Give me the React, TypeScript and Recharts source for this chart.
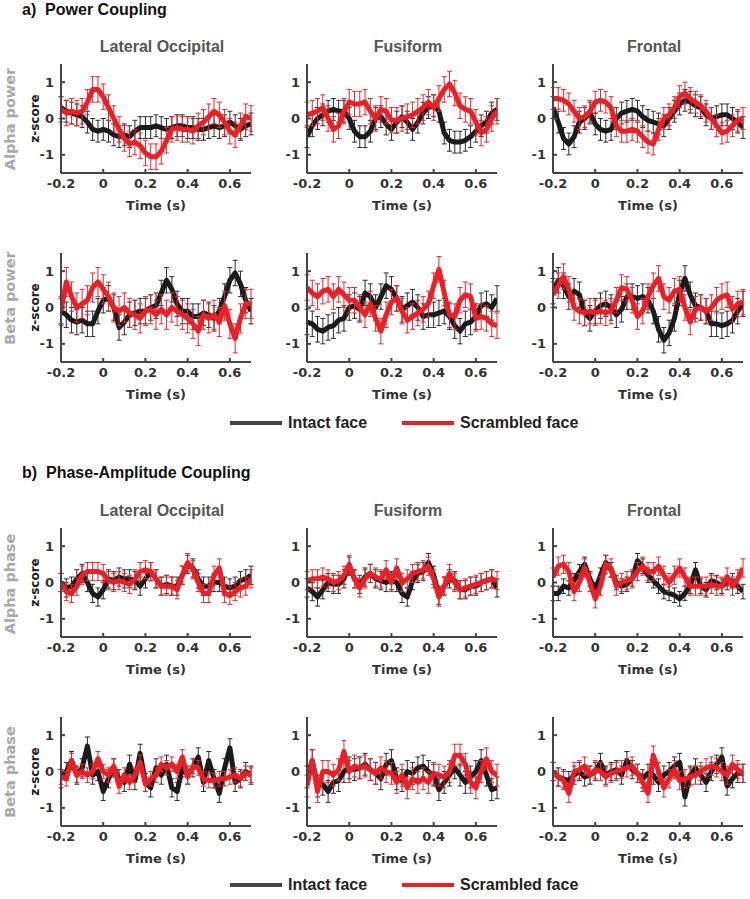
import React from "react";
import { LineChart, Line, XAxis, YAxis, ErrorBar } from "recharts";

// time axis (s)
const times = [
  -0.2, -0.175, -0.15, -0.125, -0.1, -0.075, -0.05, -0.025, 0, 0.025, 0.05, 0.075, 0.1,
  0.125, 0.15, 0.175, 0.2, 0.225, 0.25, 0.275, 0.3, 0.325, 0.35, 0.375, 0.4, 0.425, 0.45,
  0.475, 0.5, 0.525, 0.55, 0.575, 0.6, 0.625, 0.65, 0.675, 0.7,
];
const xTicks = [-0.2, 0, 0.2, 0.4, 0.6];
const yTicks = [-1, 0, 1];

const regions = ["Lateral Occipital", "Fusiform", "Frontal"];
const rowLabels = ["Alpha power", "Beta power", "Alpha phase", "Beta phase"];
const sectionTitles = ["a)  Power Coupling", "b)  Phase-Amplitude Coupling"];
const seriesNames = ["Intact face", "Scrambled face"];

// a) power coupling - alpha
const alphaPowLoIntact = [0.3, 0.2, 0.15, 0.1, 0.05, -0.1, -0.3, -0.35, -0.3, -0.35, -0.45, -0.5, -0.45, -0.5, -0.35, -0.25, -0.25, -0.25, -0.2, -0.25, -0.3, -0.25, -0.2, -0.2, -0.25, -0.25, -0.3, -0.3, -0.25, -0.2, -0.25, -0.2, -0.1, -0.2, -0.3, -0.2, -0.15];
const alphaPowLoScr = [0.25, 0.15, 0.2, 0.15, 0.2, 0.45, 0.8, 0.8, 0.6, 0.3, 0.0, -0.3, -0.55, -0.7, -0.65, -0.75, -0.95, -1.05, -1.05, -0.9, -0.6, -0.3, -0.25, -0.3, -0.3, -0.35, -0.2, -0.1, 0.05, 0.2, 0.1, -0.1, -0.35, -0.45, -0.2, 0.05, 0.0];
const alphaPowFusIntact = [-0.5, -0.2, 0.0, 0.1, 0.2, 0.25, 0.2, 0.2, 0.0, -0.35, -0.5, -0.5, -0.35, 0.0, 0.05, -0.15, -0.3, -0.1, 0.05, -0.1, -0.3, -0.1, 0.15, 0.3, 0.35, 0.2, -0.4, -0.6, -0.65, -0.65, -0.6, -0.5, -0.35, -0.2, -0.1, 0.15, 0.25];
const alphaPowFusScr = [0.1, 0.15, 0.2, 0.3, 0.0, -0.3, -0.2, 0.2, 0.45, 0.4, 0.4, 0.45, 0.2, 0.0, 0.25, 0.2, -0.05, -0.05, 0.0, 0.05, 0.1, 0.2, 0.3, 0.45, 0.3, 0.55, 0.8, 0.95, 0.7, 0.35, 0.25, 0.2, -0.1, -0.4, -0.3, 0.0, 0.2];
const alphaPowFroIntact = [0.3, -0.1, -0.55, -0.7, -0.5, -0.1, 0.0, 0.15, -0.15, -0.3, -0.35, -0.3, 0.0, 0.15, 0.2, 0.25, 0.2, 0.05, -0.05, -0.1, -0.15, -0.2, 0.0, 0.2, 0.4, 0.5, 0.45, 0.35, 0.3, 0.1, 0.0, 0.05, 0.1, 0.1, 0.0, -0.1, -0.25];
const alphaPowFroScr = [0.55, 0.55, 0.5, 0.4, 0.2, 0.0, 0.05, 0.2, 0.45, 0.5, 0.45, 0.3, -0.2, -0.35, -0.35, -0.3, -0.35, -0.5, -0.65, -0.7, -0.3, 0.0, 0.1, 0.3, 0.6, 0.7, 0.55, 0.45, 0.35, 0.2, 0.0, -0.2, -0.4, -0.35, -0.2, -0.05, 0.0];

// a) power coupling - beta
const betaPowLoIntact = [-0.1, -0.2, -0.35, -0.4, -0.35, -0.45, -0.45, -0.1, 0.2, 0.25, 0.0, -0.55, -0.4, -0.2, -0.15, -0.1, -0.1, 0.0, 0.05, 0.4, 0.75, 0.5, 0.1, -0.1, -0.1, -0.25, -0.25, -0.15, -0.2, -0.3, -0.1, 0.3, 0.75, 0.95, 0.65, 0.2, -0.1];
const betaPowLoScr = [-0.1, 0.7, 0.3, 0.0, 0.1, 0.2, 0.55, 0.7, 0.5, 0.3, 0.0, -0.1, 0.0, -0.15, -0.2, -0.3, -0.1, -0.05, -0.2, -0.05, -0.2, 0.0, -0.1, -0.2, -0.3, -0.45, -0.65, -0.2, -0.3, -0.2, -0.4, 0.05, -0.45, -0.85, -0.3, 0.1, 0.1];
const betaPowFusIntact = [-0.4, -0.45, -0.6, -0.65, -0.55, -0.5, -0.35, -0.3, 0.0, 0.05, -0.05, 0.4, 0.3, 0.0, 0.3, 0.6, 0.5, 0.25, -0.05, 0.05, 0.15, 0.0, -0.25, -0.2, -0.2, -0.15, -0.1, -0.25, -0.5, -0.65, -0.45, -0.4, -0.25, 0.05, 0.1, 0.0, 0.25];
const betaPowFusScr = [0.55, 0.4, 0.3, 0.45, 0.5, 0.3, 0.5, 0.35, 0.2, 0.2, 0.0, -0.2, 0.1, -0.3, -0.65, -0.2, 0.15, 0.25, -0.1, -0.35, -0.25, -0.15, -0.05, 0.1, 0.6, 1.05, 0.4, -0.2, -0.25, 0.2, 0.35, 0.3, -0.3, -0.25, -0.3, -0.45, -0.5];
const betaPowFroIntact = [0.45, 0.75, 0.6, 0.3, 0.45, 0.35, -0.15, -0.3, -0.1, 0.05, 0.1, 0.0, -0.2, -0.05, 0.3, 0.3, 0.25, 0.3, 0.2, -0.1, -0.6, -0.9, -0.7, -0.3, 0.4, 0.8, 0.35, 0.05, 0.0, -0.1, -0.45, -0.45, -0.5, -0.45, -0.35, -0.1, 0.1];
const betaPowFroScr = [0.35, 0.6, 0.85, 0.5, 0.0, -0.1, -0.15, -0.1, -0.15, -0.1, -0.15, -0.1, 0.2, 0.55, 0.5, 0.2, -0.25, -0.1, 0.3, 0.6, 0.8, 0.3, 0.2, 0.45, 0.5, 0.0, -0.4, -0.05, 0.0, -0.1, 0.0, 0.2, 0.3, 0.35, -0.05, 0.1, 0.15];

// b) phase-amplitude coupling - alpha
const alphaPhLoIntact = [0.0, -0.15, -0.1, 0.1, 0.25, 0.0, -0.3, -0.4, -0.2, 0.1, 0.05, 0.15, 0.1, 0.1, 0.05, -0.1, 0.1, 0.3, 0.1, -0.1, -0.05, -0.1, -0.1, 0.2, 0.5, 0.4, 0.1, -0.1, -0.1, 0.0, 0.0, -0.1, -0.15, -0.1, 0.05, 0.1, 0.2];
const alphaPhLoScr = [0.0, -0.25, -0.3, -0.1, 0.2, 0.3, 0.3, 0.3, 0.25, 0.05, 0.0, 0.05, 0.0, -0.05, 0.1, 0.3, 0.35, 0.3, 0.1, -0.1, -0.1, -0.1, -0.2, 0.2, 0.55, 0.35, 0.0, -0.3, -0.3, 0.2, 0.4, -0.3, -0.35, -0.25, -0.15, -0.1, 0.1];
const alphaPhFusIntact = [-0.15, -0.25, -0.4, -0.2, 0.0, -0.05, -0.05, 0.1, 0.45, 0.1, -0.05, 0.15, 0.25, 0.1, 0.05, 0.0, 0.05, 0.0, -0.3, -0.4, 0.05, 0.25, 0.3, 0.55, 0.2, -0.35, -0.1, 0.1, 0.05, -0.2, -0.2, -0.1, -0.1, 0.0, 0.05, 0.1, -0.15];
const alphaPhFusScr = [0.05, 0.1, 0.1, 0.15, 0.1, 0.0, 0.05, 0.2, 0.5, 0.1, -0.15, 0.1, 0.25, 0.15, 0.1, 0.35, 0.0, 0.4, 0.0, 0.1, 0.25, 0.3, 0.35, 0.45, 0.1, -0.4, -0.1, 0.25, 0.0, -0.2, -0.15, -0.1, -0.05, 0.0, 0.05, 0.1, 0.05];
const alphaPhFroIntact = [-0.3, -0.3, -0.1, -0.15, 0.05, 0.3, 0.5, 0.1, -0.2, 0.2, 0.55, 0.35, 0.0, -0.1, -0.05, 0.1, 0.6, 0.45, 0.2, 0.05, -0.1, -0.25, -0.3, -0.35, -0.45, -0.3, -0.1, 0.35, -0.1, -0.2, 0.05, 0.0, -0.1, 0.0, 0.05, -0.1, -0.25];
const alphaPhFroScr = [0.15, 0.45, 0.5, 0.3, -0.25, 0.0, 0.4, 0.0, -0.45, -0.1, 0.5, 0.4, -0.1, 0.0, 0.05, 0.1, 0.3, 0.45, 0.3, 0.3, 0.45, 0.2, 0.0, 0.2, 0.4, 0.15, -0.1, -0.1, -0.1, -0.1, -0.05, -0.1, -0.1, 0.15, -0.1, 0.1, 0.4];

// b) phase-amplitude coupling - beta
const betaPhLoIntact = [-0.2, 0.0, 0.3, -0.1, 0.1, 0.7, -0.1, 0.0, -0.55, -0.2, 0.1, -0.2, -0.3, 0.2, -0.25, 0.5, -0.3, -0.45, 0.1, -0.1, 0.2, -0.45, -0.55, 0.1, -0.1, 0.1, 0.4, -0.3, 0.3, -0.2, -0.6, 0.1, 0.65, -0.3, -0.2, 0.0, -0.1];
const betaPhLoScr = [-0.15, -0.2, 0.3, -0.1, 0.0, -0.1, 0.0, 0.35, 0.0, -0.1, 0.15, -0.4, -0.1, -0.3, -0.1, 0.25, -0.35, -0.2, -0.1, 0.2, 0.1, 0.2, 0.0, 0.4, -0.15, 0.15, 0.1, -0.2, -0.25, -0.25, -0.2, -0.2, -0.15, -0.1, -0.2, -0.05, -0.1];
const betaPhFusIntact = [-0.15, 0.3, -0.4, -0.35, -0.55, -0.3, -0.25, 0.0, 0.1, 0.05, 0.1, 0.2, 0.05, -0.05, -0.2, 0.2, 0.3, -0.2, -0.25, 0.0, -0.05, 0.1, 0.15, 0.0, -0.1, -0.5, -0.3, -0.1, 0.1, -0.1, -0.3, -0.15, 0.0, 0.3, -0.1, -0.5, -0.45];
const betaPhFusScr = [-0.4, 0.3, -0.55, 0.0, 0.0, -0.1, 0.05, 0.55, 0.0, 0.15, 0.1, 0.15, 0.05, -0.05, 0.1, 0.0, -0.05, -0.3, -0.1, -0.45, -0.2, -0.3, -0.2, -0.3, -0.05, -0.1, -0.15, 0.0, 0.45, 0.45, 0.2, -0.3, -0.45, 0.0, 0.35, 0.0, -0.1];
const betaPhFroIntact = [0.0, -0.15, -0.2, -0.25, -0.1, 0.0, -0.15, -0.1, 0.0, 0.25, -0.1, 0.0, 0.05, -0.1, 0.3, 0.05, -0.05, -0.2, -0.05, -0.1, -0.3, -0.1, 0.0, 0.15, 0.25, -0.7, -0.1, 0.1, -0.1, -0.3, 0.0, 0.2, 0.4, -0.4, -0.2, -0.05, -0.05];
const betaPhFroScr = [0.0, -0.15, -0.25, -0.6, 0.0, 0.05, 0.15, -0.1, 0.05, 0.0, -0.15, -0.05, 0.0, 0.05, 0.1, 0.15, -0.05, -0.3, -0.6, 0.45, 0.0, -0.45, -0.2, 0.05, -0.25, -0.2, -0.15, -0.1, 0.0, 0.1, 0.15, 0.1, 0.0, -0.1, 0.2, 0.05, -0.05];

// standard error (z), one per series, rows x columns
const intactSem = [
  [0.3, 0.3, 0.3],
  [0.35, 0.35, 0.35],
  [0.25, 0.25, 0.2],
  [0.25, 0.3, 0.25],
];
const scrambledSem = [
  [0.35, 0.35, 0.3],
  [0.4, 0.35, 0.35],
  [0.25, 0.25, 0.25],
  [0.2, 0.3, 0.25],
];

const grid = [
  [[alphaPowLoIntact, alphaPowLoScr], [alphaPowFusIntact, alphaPowFusScr], [alphaPowFroIntact, alphaPowFroScr]],
  [[betaPowLoIntact, betaPowLoScr], [betaPowFusIntact, betaPowFusScr], [betaPowFroIntact, betaPowFroScr]],
  [[alphaPhLoIntact, alphaPhLoScr], [alphaPhFusIntact, alphaPhFusScr], [alphaPhFroIntact, alphaPhFroScr]],
  [[betaPhLoIntact, betaPhLoScr], [betaPhFusIntact, betaPhFusScr], [betaPhFroIntact, betaPhFroScr]],
];

const SANS = '"Liberation Sans", Arial, Helvetica, sans-serif';
const WIDE = '"DejaVu Sans", Verdana, sans-serif';
const INTACT = "#1b1b1b";
const SCRAMBLED = "#ec1f26";
const AXIS = "#454545";

// layout
const colLeft = [61, 307, 553];
const rowTop = [64, 253, 528, 717];
const rowLabelY = [119, 298, 584, 772];
const PW = 190;
const PH = 109;
const YW = 46;
const XH = 44;

const tickStyle = { fill: "#333", fontSize: 13, fontWeight: 700, fontFamily: WIDE };

// eslint-disable-next-line @typescript-eslint/no-explicit-any
const ZLabel = (props: any) => {
  const { x, y, height } = props.viewBox;
  const cx = x + YW - 26;
  const cy = y + height / 2;
  return (
    <text x={cx} y={cy} transform={`rotate(-90 ${cx} ${cy})`} textAnchor="middle" dominantBaseline="central"
      fontFamily={WIDE} fontWeight={700} fontSize={12} fill="#222">
      z-score
    </text>
  );
};

// eslint-disable-next-line @typescript-eslint/no-explicit-any
const TimeLabel = (props: any) => {
  const { x, y, width } = props.viewBox;
  return (
    <text x={x + width / 2} y={y + 32} textAnchor="middle" dominantBaseline="central"
      fontFamily={WIDE} fontWeight={700} fontSize={13} fill="#333">
      Time (s)
    </text>
  );
};

interface PanelProps {
  left: number;
  top: number;
  intact: number[];
  scrambled: number[];
  intactErr: number;
  scrambledErr: number;
  showZ: boolean;
}

function Panel({ left, top, intact, scrambled, intactErr, scrambledErr, showZ }: PanelProps) {
  const rows = times.map((t, i) => ({
    t,
    intact: intact[i],
    scrambled: scrambled[i],
    ie: intactErr,
    se: scrambledErr,
  }));
  return (
    <div style={{ position: "absolute", left: left - YW, top: top - 4 }}>
      <LineChart width={YW + PW + 6} height={PH + XH + 4} data={rows}
        margin={{ top: 4, right: 6, bottom: 0, left: 0 }}>
        <XAxis dataKey="t" type="number" domain={[-0.2, 0.7]} ticks={xTicks} allowDataOverflow
          height={XH} axisLine={{ stroke: AXIS, strokeWidth: 2 }} tickLine={{ stroke: AXIS, strokeWidth: 2 }}
          tickSize={-4} tickMargin={10} tick={tickStyle} interval={0} label={<TimeLabel />} />
        <YAxis type="number" domain={[-1.5, 1.5]} ticks={yTicks} allowDataOverflow width={YW}
          axisLine={{ stroke: AXIS, strokeWidth: 2 }} tickLine={{ stroke: AXIS, strokeWidth: 2 }}
          tickSize={-4} tickMargin={11} tick={tickStyle} interval={0}
          label={showZ ? <ZLabel /> : undefined} />
        <Line type="linear" dataKey="intact" stroke={INTACT} strokeWidth={5} strokeLinejoin="round"
          dot={false} activeDot={false} isAnimationActive={false}>
          <ErrorBar dataKey="ie" width={2.5} stroke="#2b2b2b" strokeWidth={1} direction="y" isAnimationActive={false} />
        </Line>
        <Line type="linear" dataKey="scrambled" stroke={SCRAMBLED} strokeWidth={5} strokeLinejoin="round"
          dot={false} activeDot={false} isAnimationActive={false}>
          <ErrorBar dataKey="se" width={2.5} stroke="#e8262c" strokeWidth={1} direction="y" isAnimationActive={false} />
        </Line>
      </LineChart>
    </div>
  );
}

function Legend({ y }: { y: number }) {
  const items = [
    { name: seriesNames[0], color: "#444", x: 230 },
    { name: seriesNames[1], color: SCRAMBLED, x: 402 },
  ];
  return (
    <>
      {items.map((it) => (
        <React.Fragment key={it.name}>
          <div style={{ position: "absolute", left: it.x, top: y - 2, width: 52, height: 4, background: it.color }} />
          <div style={{
            position: "absolute", left: it.x + 58, top: y, transform: "translateY(-50%)",
            fontFamily: SANS, fontWeight: 700, fontSize: 16, color: "#222", lineHeight: 1, whiteSpace: "nowrap",
          }}>
            {it.name}
          </div>
        </React.Fragment>
      ))}
    </>
  );
}

export default function App() {
  return (
    <div style={{ position: "absolute", left: 0, top: 0, width: 750, height: 899, background: "#fff", overflow: "hidden" }}>
      {sectionTitles.map((s, i) => (
        <div key={s} style={{
          position: "absolute", left: 22, top: i === 0 ? 10 : 473, transform: "translateY(-50%)",
          fontFamily: SANS, fontWeight: 700, fontSize: 16, color: "#111", lineHeight: 1, whiteSpace: "pre",
        }}>
          {s}
        </div>
      ))}

      {[0, 2].map((r) =>
        regions.map((name, c) => (
          <div key={`${r}-${name}`} style={{
            position: "absolute", left: colLeft[c] + PW / 2 + 6, top: rowTop[r] - 17, transform: "translate(-50%, -50%)",
            fontFamily: SANS, fontWeight: 700, fontSize: 16, color: "#555", lineHeight: 1, whiteSpace: "nowrap",
          }}>
            {name}
          </div>
        ))
      )}

      {rowLabels.map((lab, r) => (
        <div key={lab} style={{
          position: "absolute", left: 10, top: rowLabelY[r], transform: "translate(-50%, -50%) rotate(-90deg)",
          fontFamily: WIDE, fontWeight: 700, fontSize: 14.5, color: "#a8a8a8", lineHeight: 1, whiteSpace: "nowrap",
        }}>
          {lab}
        </div>
      ))}

      {grid.map((row, r) =>
        row.map((pair, c) => (
          <Panel key={`${r}-${c}`} left={colLeft[c]} top={rowTop[r]} intact={pair[0]} scrambled={pair[1]}
            intactErr={intactSem[r][c]} scrambledErr={scrambledSem[r][c]} showZ={c === 0} />
        ))
      )}

      <Legend y={423} />
      <Legend y={885} />
    </div>
  );
}
